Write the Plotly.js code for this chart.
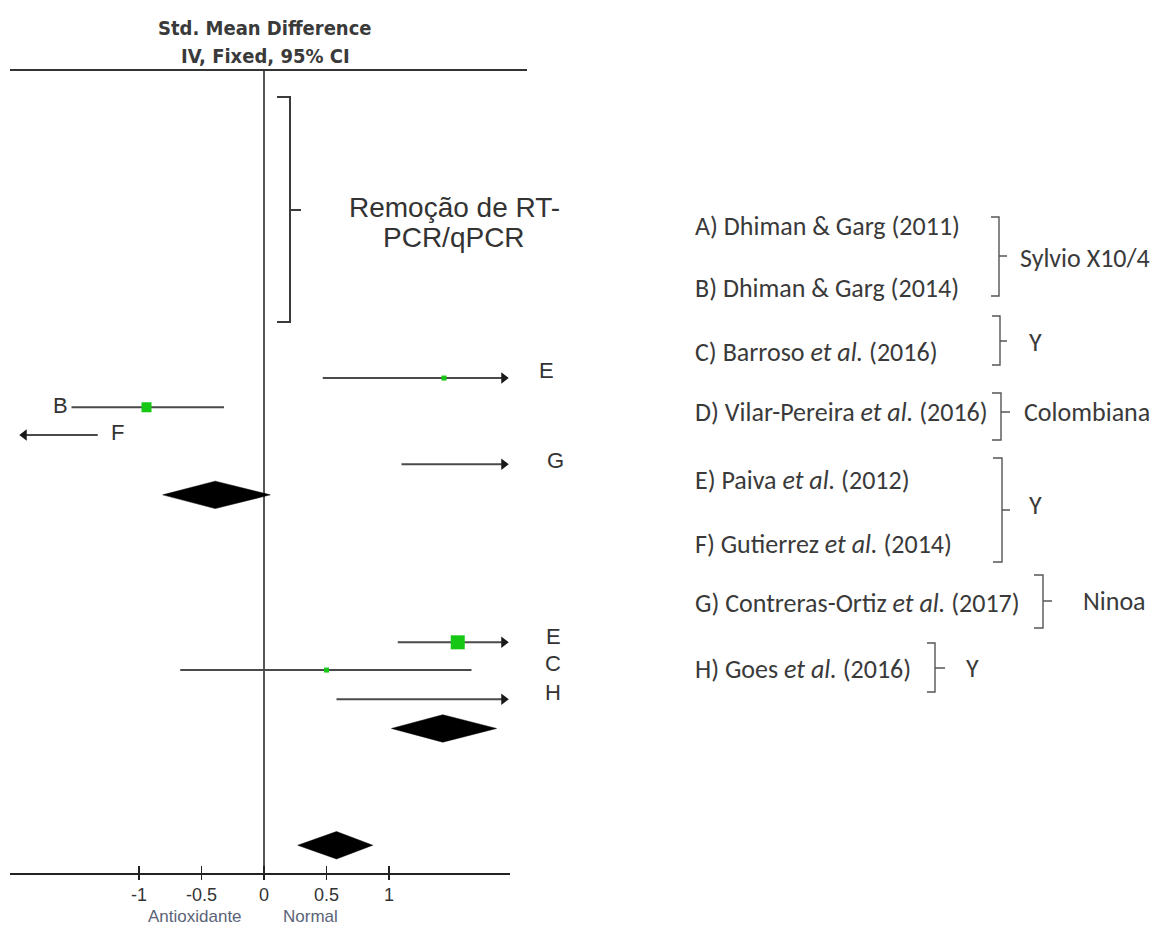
<!DOCTYPE html>
<html><head><meta charset="utf-8">
<script src="https://cdn.plot.ly/plotly-3.0.1.min.js"></script>
<style>html,body{margin:0;padding:0;background:#fff}</style>
</head><body><div id="chart" style="width:1162px;height:928px"></div>
<script>
// ---- data ----
const studyLabels = ['E','B','F','G','E','C','H'];
const studyRows   = [10.55, 11.55, 12.5, 13.5, 19.6, 20.55, 21.55];
const studyEst    = [1.44, -0.94, null, null, 1.55, 0.50, null];
const studyLo     = [0.47, -1.54, -1.95, 1.10, 1.07, -0.67, 0.58];
const studyHi     = [1.95, -0.32, -1.33, 1.95, 1.95, 1.66, 1.95];
const studyArrow  = ['right','none','left','right','right','none','right'];
const studyWeight = [5, 10, 0, 0, 14, 5, 0];

const pooledRows = [14.55, 22.55, 26.55];
const pooledEst  = [-0.39, 1.43, 0.58];
const pooledLo   = [-0.81, 1.02, 0.27];
const pooledHi   = [0.05, 1.86, 0.87];

const tickVals = [-1, -0.5, 0, 0.5, 1];
const tickText = ['-1', '-0.5', '0', '0.5', '1'];

const legendEntries = [
  'A) Dhiman &amp; Garg (2011)',
  'B) Dhiman &amp; Garg (2014)',
  'C) Barroso <i>et al.</i> (2016)',
  'D) Vilar-Pereira <i>et al.</i> (2016)',
  'E) Paiva <i>et al.</i> (2012)',
  'F) Gutierrez <i>et al.</i> (2014)',
  'G) Contreras-Ortiz <i>et al.</i> (2017)',
  'H) Goes <i>et al.</i> (2016)'
];
const groupNames = ['Sylvio X10/4', 'Y', 'Colombiana', 'Y', 'Ninoa', 'Y'];
const titleLines = ['Std. Mean Difference', 'IV, Fixed, 95% CI'];
const bracketText = 'Remoção de RT-<br>PCR/qPCR';
const favourLabels = ['Antioxidante', 'Normal'];

// ---- pixel helpers (layout placement only) ----
const X0 = 264, XS = 125;
const PX = p => (p - X0) / XS;          // data x
const QX = p => (p - 10) / 500;         // paper x
const QY = p => (873 - p) / 803;        // paper y

const traces = [];
const lineCol = '#4a4a4a';
const arrowBack = 4 / XS;
studyRows.forEach((r, i) => {
  let lo = studyLo[i], hi = studyHi[i];
  let lo2 = lo, hi2 = hi;
  if (studyArrow[i] === 'right') hi2 = hi - arrowBack;
  if (studyArrow[i] === 'left') lo2 = lo + arrowBack;
  traces.push({x: [lo2, hi2], y: [r, r], mode: 'lines', type: 'scatter',
    line: {color: lineCol, width: 2}, hoverinfo: 'skip', showlegend: false, cliponaxis: false});
  if (studyArrow[i] !== 'none') {
    traces.push({x: [studyArrow[i] === 'right' ? hi2 : lo2], y: [r], mode: 'markers', type: 'scatter',
      marker: {symbol: studyArrow[i] === 'right' ? 'triangle-right' : 'triangle-left', size: 10, color: '#1a1a1a'},
      hoverinfo: 'skip', showlegend: false, cliponaxis: false});
  }
  if (studyEst[i] !== null && studyWeight[i] > 0) {
    traces.push({x: [studyEst[i]], y: [r], mode: 'markers', type: 'scatter',
      marker: {symbol: 'square', size: studyWeight[i], color: '#16c716', line: {width: 0}},
      hoverinfo: 'skip', showlegend: false, cliponaxis: false});
  }
});
const dh = 0.47;
pooledRows.forEach((r, i) => {
  traces.push({x: [pooledLo[i], pooledEst[i], pooledHi[i], pooledEst[i], pooledLo[i]],
    y: [r, r - dh, r, r + dh, r], mode: 'lines', type: 'scatter', fill: 'toself',
    fillcolor: '#000', line: {color: '#000', width: 0.5}, hoverinfo: 'skip', showlegend: false});
});
// carrier for the crossing (inside) tick marks
traces.push({x: [tickVals[0]], y: [null], xaxis: 'x2', yaxis: 'y', mode: 'markers',
  marker: {opacity: 0}, hoverinfo: 'skip', showlegend: false});

const ann = [];
const darkText = '#333333';
const P = (px, py, text, font, xa) => ({x: QX(px), y: QY(py), xref: 'paper', yref: 'paper',
  text: text, showarrow: false, font: font, xanchor: xa || 'center', yanchor: 'middle'});
const titleFont = {family: 'Liberation Sans Narrow, DejaVu Sans Condensed, Arial Narrow, sans-serif', size: 20, color: '#3a3a3a'};
ann.push(P(265, 28, '<b>' + titleLines[0] + '</b>', titleFont));
ann.push(P(265, 56, '<b>' + titleLines[1] + '</b>', titleFont));
const remFont = {family: 'Liberation Sans, Arial, sans-serif', size: 28, color: darkText};
bracketText.split('<br>').forEach((t, i) => ann.push(P(454, 207 + 30 * i, t, remFont)));
const letterPos = [[546,370],[60,405],[117,432],[555,460],[553,636],[553,663],[553,692]];
const letterFont = {family: 'Liberation Sans, Arial, sans-serif', size: 22, color: darkText};
studyLabels.forEach((t, i) => ann.push(P(letterPos[i][0], letterPos[i][1], t, letterFont)));
const favFont = {family: 'Liberation Sans, Arial, sans-serif', size: 17, color: '#5a6378'};
ann.push(P(195, 916, favourLabels[0], favFont));
ann.push(P(310, 916, favourLabels[1], favFont));
const legY = [226, 288, 352, 412, 480, 544, 603, 669];
const legFont = {family: 'Carlito, Lato, Open Sans, sans-serif', size: 26, color: '#3a3a3a'};
legendEntries.forEach((t, i) => ann.push(P(693, legY[i], t, legFont, 'left')));
const grpPos = [[1018,258,'left'],[1035,342,'center'],[1022,412,'left'],[1035,505,'center'],[1081,601,'left'],[972,668,'center']];
groupNames.forEach((t, i) => ann.push(P(grpPos[i][0], grpPos[i][1], t, legFont, grpPos[i][2])));

// shapes
const shapes = [];
const bracket = (x0, x1, yT, yB, yM, xT, col, w) => {
  shapes.push({type: 'path', xref: 'paper', yref: 'paper',
    path: `M ${QX(x0)},${QY(yT)} L ${QX(x1)},${QY(yT)} L ${QX(x1)},${QY(yB)} L ${QX(x0)},${QY(yB)} M ${QX(x1)},${QY(yM)} L ${QX(xT)},${QY(yM)}`,
    line: {color: col, width: w}});
};
bracket(277, 290, 97, 322, 210, 301, '#3a3a3a', 2);
bracket(991, 999, 217, 296, 256, 1007, '#555', 1.4);
bracket(992, 1000, 316, 365, 341, 1007, '#555', 1.4);
bracket(992, 1001, 393, 440, 412, 1010, '#555', 1.4);
bracket(993, 1002, 458, 562, 510, 1010, '#555', 1.4);
bracket(1034, 1043, 575, 628, 601, 1052, '#555', 1.4);
bracket(927, 935, 643, 692, 668, 945, '#555', 1.4);
shapes.push({type: 'line', xref: 'paper', yref: 'paper', x0: QX(10), x1: QX(527), y0: 1, y1: 1,
  line: {color: '#333', width: 2}});

const layout = {
  width: 1162, height: 928,
  margin: {l: 10, r: 652, t: 70, b: 55},
  paper_bgcolor: '#fff', plot_bgcolor: '#fff',
  showlegend: false,
  xaxis: {range: [PX(10), PX(510)], tickvals: tickVals, ticktext: tickText,
    ticks: 'outside', ticklen: 5, tickwidth: 1.5, tickcolor: '#222',
    showline: true, linecolor: '#222', linewidth: 1.6, showgrid: false,
    zeroline: true, zerolinecolor: '#555', zerolinewidth: 1.6,
    tickfont: {family: 'Liberation Sans, Arial, sans-serif', size: 18, color: '#333'}, fixedrange: true},
  xaxis2: {range: [PX(10), PX(510)], overlaying: 'x', anchor: 'y', side: 'bottom',
    tickvals: tickVals, ticks: 'inside', ticklen: 7, tickwidth: 1.5, tickcolor: '#222',
    showticklabels: false, showgrid: false, zeroline: false, showline: false},
  yaxis: {range: [27.5, 0], showgrid: false, zeroline: false, showline: false, showticklabels: false, ticks: '', fixedrange: true},
  annotations: ann, shapes: shapes
};
Plotly.newPlot('chart', traces, layout, {displayModeBar: false, staticPlot: true});
</script></body></html>
